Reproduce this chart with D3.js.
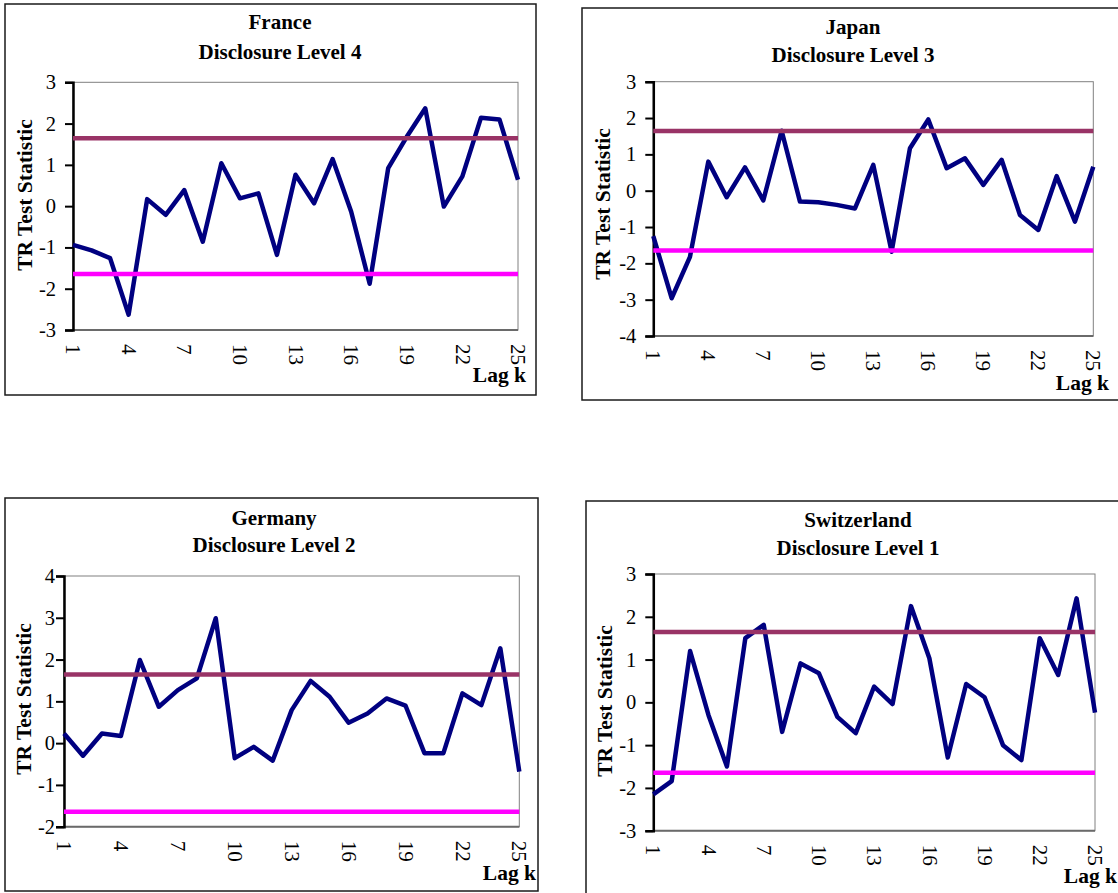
<!DOCTYPE html>
<html>
<head>
<meta charset="utf-8">
<script src="https://cdn.jsdelivr.net/npm/d3@7/dist/d3.min.js"></script>
<style>
  html, body { margin: 0; padding: 0; background: #fff; }
  svg { display: block; }
</style>
</head>
<body>
<svg id="chart" width="1118" height="893"></svg>
<script>
// ---- data ----
const lags = [1,2,3,4,5,6,7,8,9,10,11,12,13,14,15,16,17,18,19,20,21,22,23,24,25];
const xTickLabels = [1,4,7,10,13,16,19,22,25];
const criticalValue = 1.645;

const franceValues = [-0.94,-1.07,-1.26,-2.63,0.17,-0.21,0.39,-0.86,1.04,0.19,0.31,-1.18,0.76,0.07,1.14,-0.13,-1.88,0.92,1.68,2.37,-0.01,0.72,2.14,2.10,0.64];
const japanValues = [-1.25,-2.96,-1.82,0.80,-0.18,0.64,-0.27,1.65,-0.30,-0.32,-0.39,-0.49,0.71,-1.68,1.17,1.96,0.62,0.89,0.16,0.85,-0.67,-1.08,0.40,-0.85,0.66];
const germanyValues = [0.23,-0.30,0.23,0.17,1.99,0.87,1.27,1.55,2.99,-0.36,-0.09,-0.42,0.79,1.49,1.11,0.49,0.71,1.07,0.90,-0.24,-0.24,1.19,0.91,2.27,-0.68];
const switzerlandValues = [-2.15,-1.84,1.20,-0.30,-1.50,1.50,1.81,-0.69,0.91,0.68,-0.34,-0.72,0.37,-0.04,2.25,1.03,-1.29,0.43,0.12,-1.00,-1.35,1.50,0.64,2.43,-0.24];

const franceYTicks = [-3,-2,-1,0,1,2,3];
const japanYTicks = [-4,-3,-2,-1,0,1,2,3];
const germanyYTicks = [-2,-1,0,1,2,3,4];
const switzerlandYTicks = [-3,-2,-1,0,1,2,3];

const countries = ["France","Japan","Germany","Switzerland"];
const subtitles = ["Disclosure Level 4","Disclosure Level 3","Disclosure Level 2","Disclosure Level 1"];
const yAxisTitle = "TR Test Statistic";
const xAxisTitle = "Lag k";

// ---- layout (positions only) ----
const layout = [
  {box:[5,4,536,395],   plot:[73,82.3,518,330],   titleX:280, t1:29,  t2:59,  ylabX:31.5, ylabY:195, yTickGap:17, lagX:526, lagY:382},
  {box:[582,8,1125,400],plot:[653.3,81.7,1093.3,336], titleX:853, t1:34, t2:62, ylabX:610, ylabY:204, yTickGap:17, lagX:1109, lagY:390},
  {box:[5,498,538,891], plot:[64,576,519.3,826.7], titleX:274, t1:525, t2:552, ylabX:31, ylabY:699, yTickGap:9, lagX:536, lagY:880},
  {box:[586,501,1125,900],plot:[653.3,574,1095,830.7], titleX:858, t1:527, t2:555, ylabX:612, ylabY:701, yTickGap:17, lagX:1117, lagY:883}
];

const seriesList = [franceValues, japanValues, germanyValues, switzerlandValues];
const yTickList = [franceYTicks, japanYTicks, germanyYTicks, switzerlandYTicks];

const svg = d3.select("#chart");
const serif = "'Liberation Serif','Times New Roman',Times,serif";

countries.forEach((name, i) => {
  const L = layout[i];
  const values = seriesList[i];
  const yTicks = yTickList[i];
  const g = svg.append("g");

  // outer frame
  g.append("rect")
    .attr("x", L.box[0]).attr("y", L.box[1])
    .attr("width", L.box[2]-L.box[0]).attr("height", L.box[3]-L.box[1])
    .attr("fill", "#fff").attr("stroke", "#1a1a1a").attr("stroke-width", 1.5);

  const x = d3.scaleLinear().domain([lags[0], lags[lags.length-1]]).range([L.plot[0], L.plot[2]]);
  const y = d3.scaleLinear().domain([d3.min(yTicks), d3.max(yTicks)]).range([L.plot[3], L.plot[1]]);

  // plot area border (gray)
  g.append("rect")
    .attr("x", L.plot[0]).attr("y", L.plot[1])
    .attr("width", L.plot[2]-L.plot[0]).attr("height", L.plot[3]-L.plot[1])
    .attr("fill", "none").attr("stroke", "#808080").attr("stroke-width", 1);
  g.append("line")
    .attr("x1", L.plot[0]).attr("x2", L.plot[2])
    .attr("y1", L.plot[3]).attr("y2", L.plot[3])
    .attr("stroke", "#6a6a6a").attr("stroke-width", 2);

  // titles
  g.append("text").attr("x", L.titleX).attr("y", L.t1)
    .attr("text-anchor","middle").attr("font-family", serif).attr("font-weight","bold")
    .attr("font-size", 21).text(name);
  g.append("text").attr("x", L.titleX).attr("y", L.t2)
    .attr("text-anchor","middle").attr("font-family", serif).attr("font-weight","bold")
    .attr("font-size", 21).text(subtitles[i]);

  // y axis
  const yAxis = d3.axisLeft(y).tickValues(yTicks).tickSize(8).tickPadding(L.yTickGap - 8).tickFormat(d3.format("d"));
  const ya = g.append("g").attr("transform", `translate(${L.plot[0]},0)`).call(yAxis);
  ya.select(".domain").attr("stroke", "#000").attr("stroke-width", 2.5);
  ya.selectAll(".tick line").attr("stroke", "#000").attr("stroke-width", 2);
  ya.selectAll(".tick text").attr("font-family", serif).attr("font-size", 20.5).attr("fill","#000")
    .text(d => d < 0 ? "-" + Math.abs(d) : String(d));

  // x axis labels (rotated)
  const xAxis = d3.axisBottom(x).tickValues(xTickLabels).tickSize(0).tickFormat(d3.format("d"));
  const xa = g.append("g").attr("transform", `translate(0,${L.plot[3]})`).call(xAxis);
  xa.select(".domain").remove();
  xa.selectAll(".tick text")
    .attr("font-family", serif).attr("font-size", 21).attr("fill","#000")
    .attr("text-anchor","start")
    .attr("transform","rotate(90)")
    .attr("x", 14).attr("y", 0).attr("dy", "0.35em");

  // y axis title
  g.append("text")
    .attr("transform", `translate(${L.ylabX},${L.ylabY}) rotate(-90)`)
    .attr("text-anchor","middle").attr("font-family", serif).attr("font-weight","bold")
    .attr("font-size", 21.5).text(yAxisTitle);

  // x axis title
  g.append("text").attr("x", L.lagX).attr("y", L.lagY)
    .attr("text-anchor","end").attr("font-family", serif).attr("font-weight","bold")
    .attr("font-size", 21.5).text(xAxisTitle);

  // data line
  const line = d3.line().x((d, j) => x(lags[j])).y(d => y(d));
  g.append("path").datum(values)
    .attr("d", line).attr("fill","none").attr("stroke","#000080")
    .attr("stroke-width", 4.5).attr("stroke-linejoin","round");

  // critical value lines
  g.append("line")
    .attr("x1", x(lags[0])).attr("x2", x(lags[lags.length-1]))
    .attr("y1", y(criticalValue)).attr("y2", y(criticalValue))
    .attr("stroke", "#993366").attr("stroke-width", 4.5);
  g.append("line")
    .attr("x1", x(lags[0])).attr("x2", x(lags[lags.length-1]))
    .attr("y1", y(-criticalValue)).attr("y2", y(-criticalValue))
    .attr("stroke", "#FF00FF").attr("stroke-width", 4.5);
});
</script>
</body>
</html>
